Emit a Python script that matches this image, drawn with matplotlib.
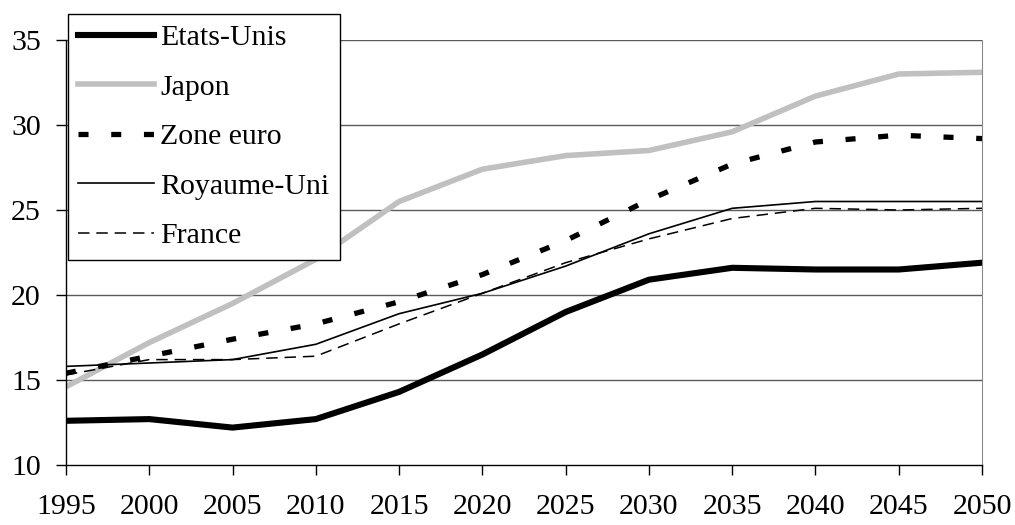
import numpy as np
import matplotlib

matplotlib.use("Agg")
from matplotlib import pyplot as plt

plt.rcParams["font.family"] = ["Liberation Serif", "DejaVu Serif"]

years = [1995, 2000, 2005, 2010, 2015, 2020, 2025, 2030, 2035, 2040, 2045, 2050]

etats_unis = [12.6, 12.7, 12.2, 12.7, 14.3, 16.5, 19.0, 20.9, 21.6, 21.5, 21.5, 21.9]
japon = [14.6, 17.2, 19.5, 22.1, 25.5, 27.4, 28.2, 28.5, 29.6, 31.7, 33.0, 33.1]
zone_euro = [15.4, 16.4, 17.4, 18.3, 19.6, 21.2, 23.2, 25.6, 27.7, 29.0, 29.4, 29.2]
royaume_uni = [15.8, 16.0, 16.2, 17.1, 18.9, 20.1, 21.7, 23.6, 25.1, 25.5, 25.5, 25.5]
france = [15.3, 16.2, 16.2, 16.4, 18.3, 20.1, 21.9, 23.3, 24.5, 25.1, 25.0, 25.1]

fig = plt.figure(figsize=(10.15, 5.25), dpi=100)
ax = fig.add_axes([0.065, 0.1143, 0.9025, 0.8095])

# horizontal grid
for v in [15, 20, 25, 30, 35]:
    ax.axhline(v, color="#5a5a5a", lw=1.0, zorder=1)

ax.plot(years, etats_unis, color="black", lw=4.4, label="Etats-Unis",
        solid_joinstyle="round", zorder=3)
ax.plot(years, japon, color="#c0c0c0", lw=4.0, label="Japon", zorder=2)
ax.plot(years, zone_euro, color="black", lw=3.8, linestyle=(0, (1.9, 4.3)),
        dash_capstyle="butt", label="Zone euro", zorder=3)
ax.plot(years, royaume_uni, color="black", lw=1.2, label="Royaume-Uni", zorder=3)
ax.plot(years, france, color="black", lw=1.1, linestyle=(0, (7.5, 4.5)),
        label="France", zorder=3)

ax.set_xlim(1995, 2050)
ax.set_ylim(10, 35)
ax.set_xticks(years)
ax.set_yticks([10, 15, 20, 25, 30, 35])

ax.spines["top"].set_visible(False)
ax.spines["right"].set_color("#8a8a8a")
ax.spines["left"].set_linewidth(1.0)
ax.spines["bottom"].set_linewidth(1.0)

ax.tick_params(axis="x", direction="out", length=7, width=1, pad=14, labelsize=21.5)
ax.tick_params(axis="y", direction="out", length=7, width=1, pad=11, labelsize=21.5)

leg = ax.legend(loc="upper left", bbox_to_anchor=(68 / 1015, 1 - 14 / 525),
                bbox_transform=fig.transFigure, fontsize=21.5, frameon=True,
                fancybox=False, shadow=False, framealpha=1, edgecolor="black",
                handlelength=2.55, handletextpad=0.2, labelspacing=0.76,
                borderpad=0.34, borderaxespad=0)
leg.get_frame().set_linewidth(1.0)
leg.set_zorder(5)

fig.savefig("out.png", dpi=100)
